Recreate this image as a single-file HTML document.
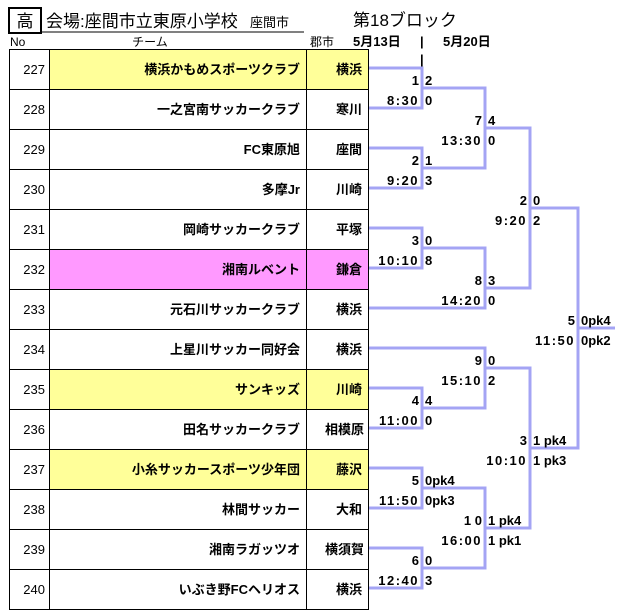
<!DOCTYPE html>
<html><head><meta charset="utf-8"><style>
body{margin:0;background:#fff}
svg{display:block}
text{font-family:"Liberation Sans","Noto Sans CJK JP",sans-serif;fill:#000}
.b{font-weight:bold;font-size:13px}
.t{font-size:13px}
.tm text{letter-spacing:1.5px}
</style></head><body>
<svg width="630" height="613" viewBox="0 0 630 613">
<rect x="9" y="8" width="32" height="25" fill="none" stroke="#000" stroke-width="2"/>
<text x="25" y="27" font-size="17" text-anchor="middle">高</text>
<text x="46" y="27" font-size="17">会場:座間市立東原小学校</text>
<text x="250" y="27" font-size="13">座間市</text>
<line x1="40" y1="32" x2="304" y2="32" stroke="#000" stroke-width="1"/>
<text x="10" y="46" font-size="12">No</text>
<text x="150" y="46" font-size="12" text-anchor="middle">チーム</text>
<text x="322" y="46" font-size="12" text-anchor="middle">郡市</text>
<text x="353" y="26" font-size="17">第18ブロック</text>
<text x="353" y="46" class="b">5月13日</text>
<text x="420" y="46" class="b">|</text>
<text x="420" y="64" class="b">|</text>
<text x="443" y="46" class="b">5月20日</text>
<g>
<rect x="49" y="49" width="257" height="40" fill="#ffff99"/>
<rect x="306" y="49" width="63" height="40" fill="#ffff99"/>
<rect x="49" y="249" width="257" height="40" fill="#ff99ff"/>
<rect x="306" y="249" width="63" height="40" fill="#ff99ff"/>
<rect x="49" y="369" width="257" height="40" fill="#ffff99"/>
<rect x="306" y="369" width="63" height="40" fill="#ffff99"/>
<rect x="49" y="449" width="257" height="40" fill="#ffff99"/>
<rect x="306" y="449" width="63" height="40" fill="#ffff99"/>
</g>
<g stroke="#000" stroke-width="1" fill="none">
<rect x="9.5" y="49.5" width="359" height="560"/>
<line x1="49.5" y1="49" x2="49.5" y2="609"/>
<line x1="306.5" y1="49" x2="306.5" y2="609"/>
<path d="M9 89.5H369M9 129.5H369M9 169.5H369M9 209.5H369M9 249.5H369M9 289.5H369M9 329.5H369M9 369.5H369M9 409.5H369M9 449.5H369M9 489.5H369M9 529.5H369M9 569.5H369"/>
</g>
<g class="t" text-anchor="end">
<text x="45" y="74">227</text><text x="45" y="114">228</text><text x="45" y="154">229</text><text x="45" y="194">230</text>
<text x="45" y="234">231</text><text x="45" y="274">232</text><text x="45" y="314">233</text><text x="45" y="354">234</text>
<text x="45" y="394">235</text><text x="45" y="434">236</text><text x="45" y="474">237</text><text x="45" y="514">238</text>
<text x="45" y="554">239</text><text x="45" y="594">240</text>
</g>
<g class="b" text-anchor="end">
<text x="300" y="74">横浜かもめスポーツクラブ</text><text x="362" y="74">横浜</text>
<text x="300" y="114">一之宮南サッカークラブ</text><text x="362" y="114">寒川</text>
<text x="300" y="154">FC東原旭</text><text x="362" y="154">座間</text>
<text x="300" y="194">多摩Jr</text><text x="362" y="194">川崎</text>
<text x="300" y="234">岡崎サッカークラブ</text><text x="362" y="234">平塚</text>
<text x="300" y="274">湘南ルベント</text><text x="362" y="274">鎌倉</text>
<text x="300" y="314">元石川サッカークラブ</text><text x="362" y="314">横浜</text>
<text x="300" y="354">上星川サッカー同好会</text><text x="362" y="354">横浜</text>
<text x="300" y="394">サンキッズ</text><text x="362" y="394">川崎</text>
<text x="300" y="434">田名サッカークラブ</text><text x="364" y="434">相模原</text>
<text x="300" y="474">小糸サッカースポーツ少年団</text><text x="362" y="474">藤沢</text>
<text x="300" y="514">林間サッカー</text><text x="362" y="514">大和</text>
<text x="300" y="554">湘南ラガッツオ</text><text x="364" y="554">横須賀</text>
<text x="300" y="594">いぶき野FCヘリオス</text><text x="362" y="594">横浜</text>
</g>
<g stroke="#a4a4f4" stroke-width="3" fill="none">
<path d="M369 68H422V108H369M369 148H422V188H369M369 228H422V268H369M369 388H422V428H369M369 468H422V508H369M369 548H422V588H369"/>
<path d="M422 88H485V168H422M422 248H485V308H369M369 348H485V408H422M422 488H485V568H422"/>
<path d="M485 128H530V288H485M485 368H530V528H485"/>
<path d="M530 208H578V448H530M578 328H615"/>
</g>
<g class="b">
<g text-anchor="end">
<text x="419" y="85">1</text>
<text x="482" y="125">7</text>
<text x="419" y="165">2</text>
<text x="527" y="205">2</text>
<text x="419" y="245">3</text>
<text x="482" y="285">8</text>
<text x="575" y="325">5</text>
<text x="482" y="365">9</text>
<text x="419" y="405">4</text>
<text x="527" y="445">3</text>
<text x="419" y="485">5</text>
<text x="482" y="525">1 0</text>
<text x="419" y="565">6</text>
</g>
<g text-anchor="end" class="tm">
<text x="419" y="105">8:30</text>
<text x="482" y="145">13:30</text>
<text x="419" y="185">9:20</text>
<text x="527" y="225">9:20</text>
<text x="419" y="265">10:10</text>
<text x="482" y="305">14:20</text>
<text x="575" y="345">11:50</text>
<text x="482" y="385">15:10</text>
<text x="419" y="425">11:00</text>
<text x="527" y="465">10:10</text>
<text x="419" y="505">11:50</text>
<text x="482" y="545">16:00</text>
<text x="419" y="585">12:40</text>
</g>
<text x="425" y="85">2</text><text x="425" y="105">0</text>
<text x="488" y="125">4</text><text x="488" y="145">0</text>
<text x="425" y="165">1</text><text x="425" y="185">3</text>
<text x="533" y="205">0</text><text x="533" y="225">2</text>
<text x="425" y="245">0</text><text x="425" y="265">8</text>
<text x="488" y="285">3</text><text x="488" y="305">0</text>
<text x="581" y="325">0pk4</text><text x="581" y="345">0pk2</text>
<text x="488" y="365">0</text><text x="488" y="385">2</text>
<text x="425" y="405">4</text><text x="425" y="425">0</text>
<text x="533" y="445">1 pk4</text><text x="533" y="465">1 pk3</text>
<text x="425" y="485">0pk4</text><text x="425" y="505">0pk3</text>
<text x="488" y="525">1 pk4</text><text x="488" y="545">1 pk1</text>
<text x="425" y="565">0</text><text x="425" y="585">3</text>
</g>
</svg>
</body></html>
